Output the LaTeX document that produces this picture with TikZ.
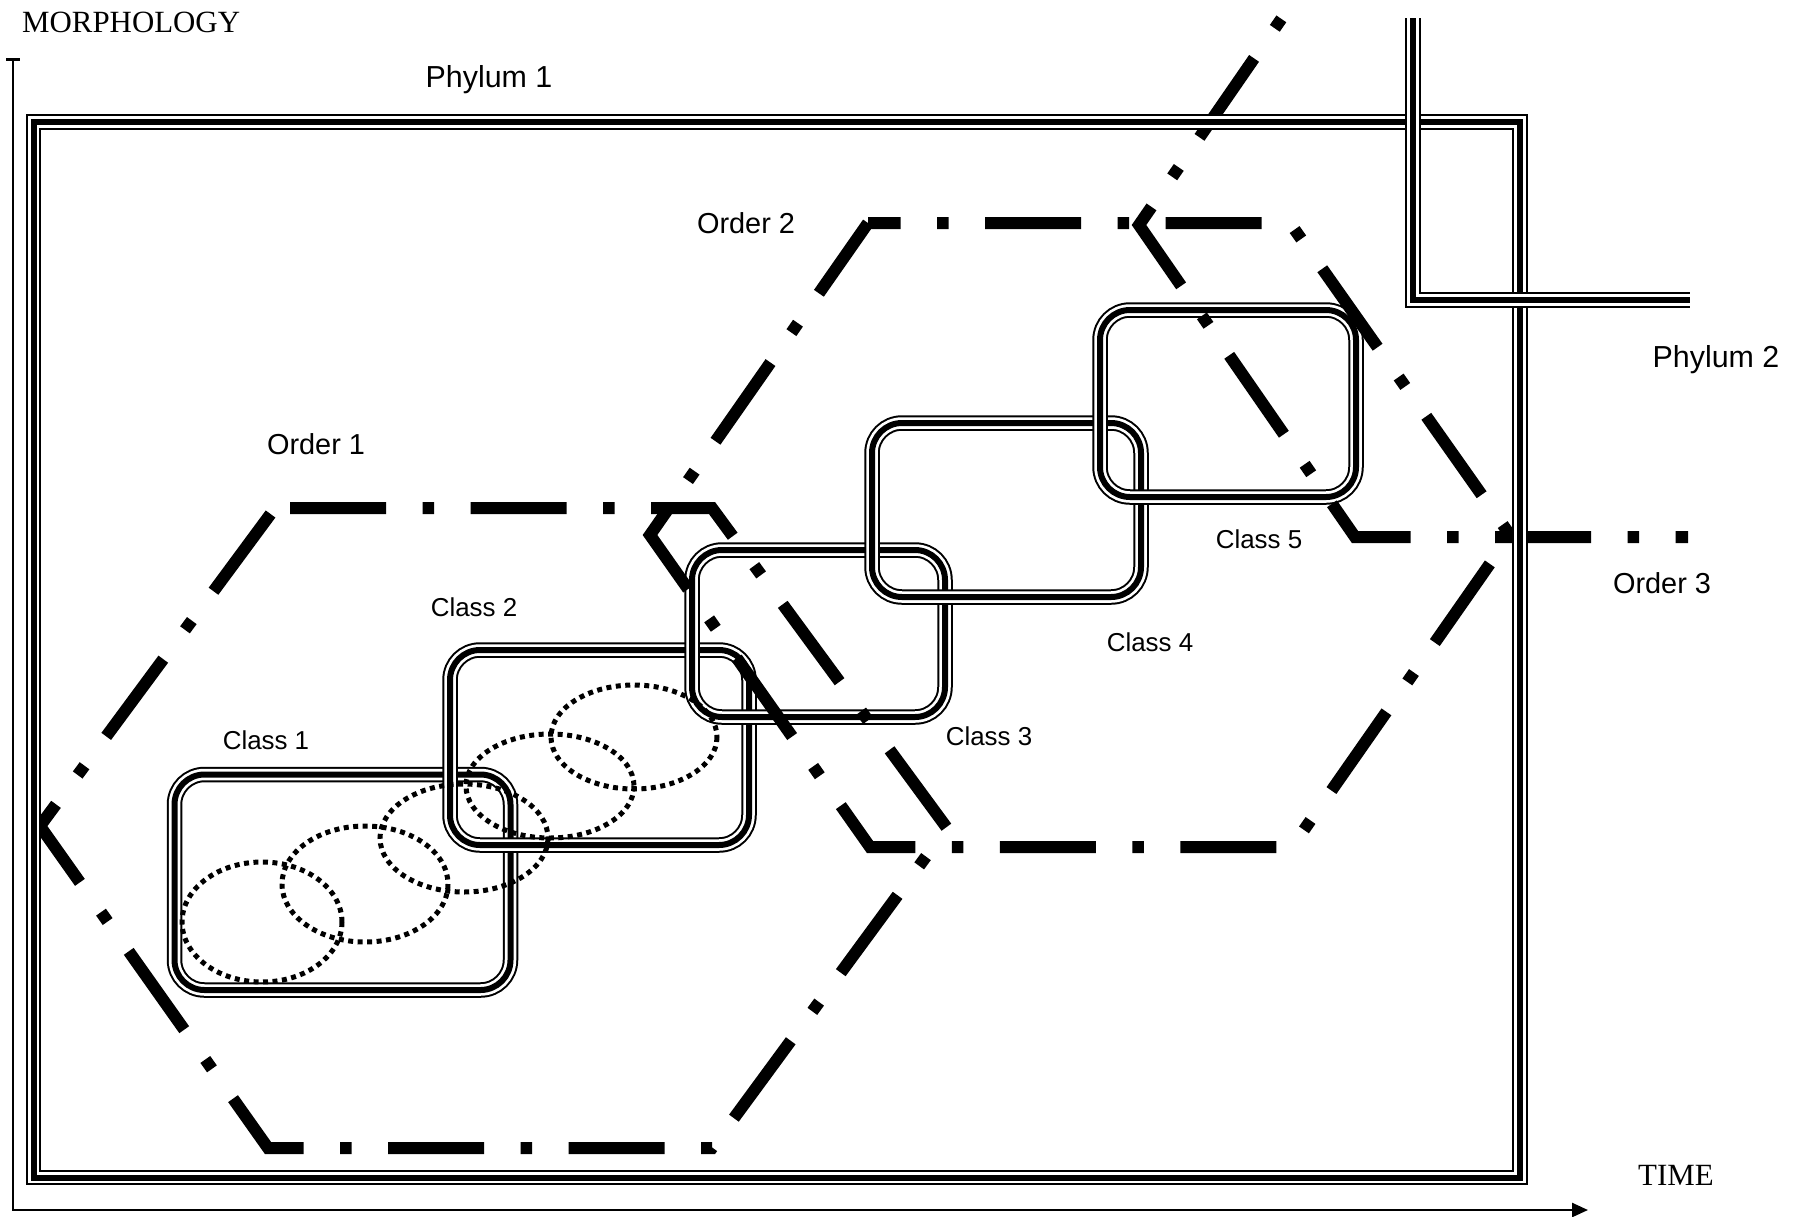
\documentclass[tikz,border=0pt]{standalone}
\usepackage{fontspec}
\setmainfont{Liberation Serif}
\setsansfont{Liberation Sans}
\usetikzlibrary{arrows.meta}
\begin{document}
\begin{tikzpicture}[x=1bp,y=-1bp,
  triple/.style={draw=black, line width=15.5bp,
    postaction={draw=white, line width=11.5bp},
    postaction={draw=black, line width=6bp}},
  classbox/.style={triple, rounded corners=30bp},
  orderline/.style={draw=black, line width=12bp, line join=miter, line cap=butt,
    dash pattern=on 96bp off 36.5bp on 11.5bp off 36.5bp},
  dotline/.style={draw=black, line width=5bp, dash pattern=on 5bp off 4.5bp},
  axis/.style={draw=black, line width=2.5bp},
  lab/.style={font=\sffamily\fontsize{29}{29}\selectfont, anchor=base, inner sep=0pt},
  clab/.style={font=\sffamily\fontsize{26}{26}\selectfont, anchor=base, inner sep=0pt},
  plab/.style={font=\sffamily\fontsize{30.5}{30.5}\selectfont, anchor=base, inner sep=0pt},
  ser/.style={font=\rmfamily\fontsize{31}{31}\selectfont, anchor=base west, inner sep=0pt}
]
\useasboundingbox[fill=white] (0,0) rectangle (1807,1216);

% axes
\coordinate (ytop) at (13,58);
\coordinate (orig) at (13,1210);
\coordinate (xend) at (1588,1210);
\draw[axis, {Bar[width=14bp,line width=3bp]}-{Triangle[length=16bp,width=14bp]}] (ytop) -- (orig) -- (xend);
\node[ser] (morph) at (22,32) {MORPHOLOGY};
\node[ser] (time) at (1638,1185) {TIME};

% class boxes
\draw[classbox] (174.5,774.5) rectangle (510.5,990);
\draw[classbox] (450,650) rectangle (749,845);
\draw[classbox] (692,550) rectangle (945,717);
\draw[classbox] (872,423) rectangle (1141,597);
\draw[classbox] (1100,310) rectangle (1356,497);

% dotted ellipses
\draw[dotline] (262,922) ellipse [x radius=80, y radius=60];
\draw[dotline] (365,884) ellipse [x radius=83, y radius=58];
\draw[dotline] (464,838) ellipse [x radius=84, y radius=54];
\draw[dotline] (550,786) ellipse [x radius=84, y radius=52];
\draw[dotline] (634,737) ellipse [x radius=83, y radius=52];

% order hexagons
\draw[orderline, dash phase=165.5bp] (275,508) -- (712,508) -- (947,828) -- (712,1148) -- (268,1148) -- (40,826) -- (275,508);
\draw[orderline, dash phase=63.5bp] (868,223) -- (1290,223) -- (1510,535) -- (1292,847) -- (870,847) -- (650,535) -- cycle;
\draw[orderline, dash phase=127.8bp] (1284,15) -- (1139,225) -- (1355,537) -- (1688,537);

% phyla
\draw[triple] (33.5,122) rectangle (1520,1177.5);
\draw[triple] (1413,18) -- (1413,300) -- (1690,300);

% labels
\node[plab] (p1) at (489,87) {Phylum 1};
\node[plab] (p2) at (1716,367) {Phylum 2};
\node[lab] (o1) at (316,454) {Order 1};
\node[lab] (o2) at (746,233) {Order 2};
\node[lab] (o3) at (1662,593) {Order 3};
\node[clab] (c1) at (266,749) {Class 1};
\node[clab] (c2) at (474,616) {Class 2};
\node[clab] (c3) at (989,745) {Class 3};
\node[clab] (c4) at (1150,651) {Class 4};
\node[clab] (c5) at (1259,548) {Class 5};
\end{tikzpicture}
\end{document}
